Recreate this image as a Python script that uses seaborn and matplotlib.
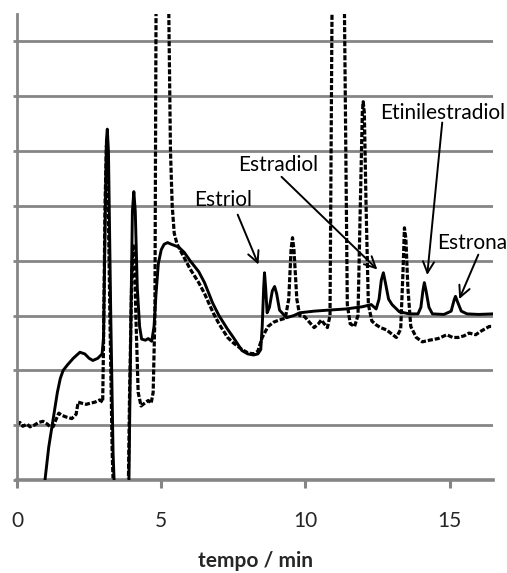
import matplotlib
matplotlib.use("Agg")
import matplotlib.pyplot as plt
import seaborn as sns
import pandas as pd

# ---- data ----
solid_t = [0.85, 0.97, 1.1, 1.25, 1.4, 1.5, 1.6, 1.75, 1.95, 2.18, 2.35, 2.5, 2.63, 2.8, 2.95,
           3.0, 3.05, 3.1, 3.13, 3.17, 3.25, 3.33, 3.4, 3.6, 3.85, 3.88, 3.95, 4.0, 4.05, 4.1,
           4.17, 4.25, 4.32, 4.45, 4.55, 4.67, 4.75, 4.82, 4.9, 5.0, 5.1, 5.22, 5.35, 5.6, 5.8,
           6.0, 6.3, 6.5, 6.78, 7.0, 7.3, 7.5, 7.8, 8.0, 8.2, 8.35, 8.45, 8.5, 8.55, 8.58, 8.62,
           8.67, 8.75, 8.85, 8.93, 9.0, 9.1, 9.34, 9.6, 9.8, 10.3, 10.83, 11.4, 11.97, 12.28,
           12.45, 12.55, 12.63, 12.7, 12.77, 12.88, 13.0, 13.25, 13.6, 13.9, 14.0, 14.07, 14.12,
           14.18, 14.28, 14.4, 14.8, 15.05, 15.15, 15.2, 15.27, 15.4, 15.6, 16.0, 16.5]
solid_s = [-0.6, 0.0, 0.6, 1.1, 1.6, 1.85, 2.0, 2.1, 2.22, 2.33, 2.3, 2.22, 2.18, 2.22, 2.3,
           2.6, 4.5, 6.2, 6.4, 6.0, 3.0, 0.5, -0.5, -2.0, -0.5, 0.0, 3.0, 4.9, 5.26, 4.9,
           3.5, 2.8, 2.57, 2.55, 2.58, 2.53, 2.8, 3.4, 3.95, 4.2, 4.3, 4.33, 4.3, 4.25, 4.15,
           4.0, 3.8, 3.6, 3.23, 3.0, 2.75, 2.6, 2.36, 2.3, 2.28, 2.3, 2.38, 2.8, 3.5, 3.78, 3.5,
           3.05, 3.15, 3.45, 3.53, 3.4, 3.1, 2.96, 3.0, 3.05, 3.08, 3.1, 3.12, 3.16, 3.2,
           3.12, 3.3, 3.65, 3.78, 3.6, 3.3, 3.2, 3.07, 3.03, 3.03, 3.15, 3.45, 3.6,
           3.45, 3.15, 3.03, 3.02, 3.08, 3.28, 3.35, 3.25, 3.08, 3.03, 3.02, 3.03]

dotted_t = [0.0, 0.1, 0.2, 0.35, 0.45, 0.6, 0.75, 0.9, 1.05, 1.15, 1.25, 1.35, 1.45, 1.55, 1.7,
            1.9, 2.05, 2.12, 2.25, 2.4, 2.53, 2.7, 2.87, 2.97, 3.0, 3.05, 3.1, 3.15, 3.22, 3.3,
            3.36, 3.6, 3.85, 3.9, 3.97, 4.02, 4.07, 4.12, 4.2, 4.3, 4.42, 4.55, 4.65, 4.72,
            4.78, 4.82, 5.0, 5.26, 5.32, 5.38, 5.45, 5.55, 5.7, 6.0, 6.3, 6.5, 6.8, 7.0, 7.3,
            7.5, 7.8, 8.0, 8.2, 8.35, 8.5, 8.7, 8.9, 9.1, 9.3, 9.42, 9.5, 9.55, 9.6, 9.7, 9.8,
            9.97, 10.1, 10.3, 10.45, 10.55, 10.65, 10.76, 10.85, 10.92, 11.1, 11.35, 11.45,
            11.55, 11.7, 11.82, 11.9, 11.97, 12.0, 12.04, 12.1, 12.18, 12.3, 12.45, 12.6, 12.8,
            13.0, 13.15, 13.3, 13.38, 13.43, 13.48, 13.55, 13.65, 13.84, 14.05, 14.3, 14.6,
            14.9, 15.1, 15.3, 15.5, 15.67, 15.9, 16.1, 16.37, 16.5]
dotted_s = [1.0, 1.05, 0.98, 1.02, 0.97, 1.0, 1.05, 1.07, 1.02, 0.97, 0.97, 1.1, 1.22, 1.18, 1.15,
            1.12, 1.2, 1.42, 1.4, 1.38, 1.4, 1.42, 1.46, 1.42, 2.5, 5.0, 6.1, 5.5, 3.0, 0.5,
            -0.5, -2.0, -0.5, 1.5, 3.5, 4.3, 4.1, 3.0, 1.6, 1.35, 1.4, 1.45, 1.4, 1.6,
            3.0, 8.6, 12.0, 8.6, 6.0, 5.0, 4.5, 4.3, 4.15, 3.85, 3.6, 3.4, 3.05, 2.85, 2.6,
            2.5, 2.38, 2.32, 2.3, 2.35, 2.6, 2.8, 2.88, 2.92, 2.95, 3.3, 4.2, 4.42, 4.2, 3.3, 3.0,
            2.98, 2.9, 2.78, 2.85, 2.92, 2.85, 2.78, 3.0, 8.6, 12.0, 8.6, 3.2,
            2.85, 2.8, 3.0, 5.0, 6.7, 6.9, 6.7, 5.0, 3.2, 2.9, 2.83, 2.78, 2.74,
            2.66, 2.6, 2.75, 3.8, 4.6, 4.4, 3.5, 2.8, 2.6, 2.52, 2.55, 2.58,
            2.65, 2.6, 2.6, 2.63, 2.68, 2.65, 2.72, 2.8, 2.8]

x_ticks = [0, 5, 10, 15]
x_label = "tempo / min"

peak_labels = ["Estriol", "Estradiol", "Etinilestradiol", "Estrona"]
peak_tips = [(8.37, 3.93), (12.49, 3.84), (14.22, 3.74), (15.33, 3.3)]
label_tails = [(7.65, 4.84), (9.17, 5.53), (14.74, 6.52), (15.99, 4.11)]
label_pos = [(7.13, 5.11), (9.07, 5.75), (14.74, 6.7), (15.78, 4.33)]

# ---- figure ----
sns.set_theme(style="white")
plt.rcParams["font.family"] = ["Lato", "DejaVu Sans"]

W, H = 507, 573
fig = plt.figure(figsize=(W / 100, H / 100), dpi=100)
ax = fig.add_axes([17 / W, 1 - 480 / H, (493 - 17) / W, (480 - 14) / H])

grey = "#858585"
for g in range(1, 9):
    ax.axhline(g, color=grey, lw=2.0, zorder=0)

df_s = pd.DataFrame({"t": solid_t, "s": solid_s})
df_d = pd.DataFrame({"t": dotted_t, "s": dotted_s})
sns.lineplot(data=df_d, x="t", y="s", ax=ax, color="black", lw=2.3,
             linestyle=(0, (1.6, 0.6)), sort=False, estimator=None, zorder=2)
sns.lineplot(data=df_s, x="t", y="s", ax=ax, color="black", lw=2.1,
             sort=False, estimator=None, zorder=3)

ax.set_xlim(0, 16.5)
ax.set_ylim(0, 8.5)
ax.set_xticks(x_ticks)
ax.set_xticklabels([str(v) for v in x_ticks])
ax.set_yticks(range(0, 9))
ax.set_yticklabels([])
ax.tick_params(axis="x", direction="out", length=6, width=2.2, color=grey,
               labelsize=15, pad=16, bottom=True)
ax.tick_params(axis="y", direction="out", length=3, width=2.0, color=grey, left=True)
ax.set_xlabel(x_label, fontsize=15, fontweight="bold", labelpad=15)
ax.set_ylabel("")

for side in ["top", "right"]:
    ax.spines[side].set_visible(False)
ax.spines["bottom"].set_color(grey)
ax.spines["bottom"].set_linewidth(2.6)
ax.spines["left"].set_color(grey)
ax.spines["left"].set_linewidth(2.0)

for lab, tip, tail, pos in zip(peak_labels, peak_tips, label_tails, label_pos):
    ax.annotate("", xy=tip, xytext=tail,
                arrowprops=dict(arrowstyle="->,head_length=0.4,head_width=0.2",
                                mutation_scale=20, color="black", lw=1.4,
                                shrinkA=0, shrinkB=0),
                annotation_clip=False)
    ax.text(pos[0], pos[1], lab, ha="center", va="center", fontsize=15,
            color="black", clip_on=False)

fig.savefig("out.png", dpi=100)
